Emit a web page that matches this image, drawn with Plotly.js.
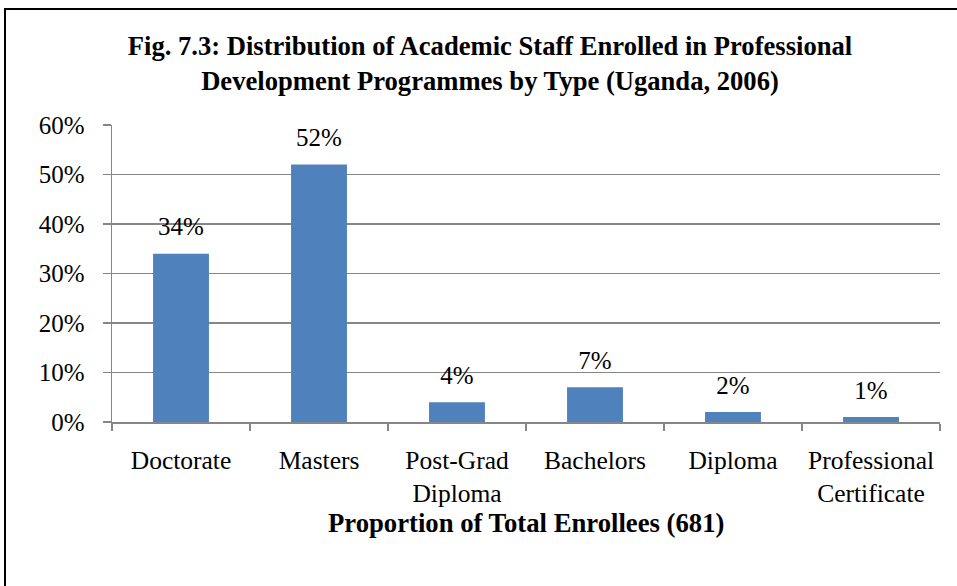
<!DOCTYPE html>
<html>
<head>
<meta charset="utf-8">
<script src="https://cdn.plot.ly/plotly-3.0.1.min.js"></script>
<style>
html,body{margin:0;padding:0;background:#fff;}
#wrap{position:relative;width:957px;height:586px;overflow:hidden;}
#chart{width:957px;height:586px;}
#frame{position:absolute;left:4px;top:8px;width:970px;height:600px;border:2px solid #000;pointer-events:none;}
</style>
</head>
<body>
<div id="wrap"><div id="chart"></div><div id="frame"></div></div>
<script>
const categories = ["Doctorate", "Masters", "Post-Grad<br>Diploma", "Bachelors", "Diploma", "Professional<br>Certificate"];
const values = [0.34, 0.52, 0.04, 0.07, 0.02, 0.01];
const valueLabels = ["34%", "52%", "4%", "7%", "2%", "1%"];
const yTickVals = [0, 0.1, 0.2, 0.3, 0.4, 0.5, 0.6];
const yTickText = ["0%", "10%", "20%", "30%", "40%", "50%", "60%"];
const xAxisTitle = "Proportion of Total Enrollees (681)";

const font = "Liberation Serif, Times New Roman, serif";

const bars = {
  type: "bar",
  x: categories,
  y: values,
  marker: {color: "#4F81BD"},
  hoverinfo: "skip"
};

const labels = {
  type: "scatter",
  mode: "markers+text",
  x: categories,
  y: values,
  text: valueLabels,
  textposition: "top center",
  textfont: {family: font, size: 25, color: "#000"},
  marker: {size: 18, opacity: 0},
  cliponaxis: false,
  hoverinfo: "skip"
};

const layout = {
  width: 957, height: 586,
  margin: {l: 112, r: 17, t: 125, b: 164},
  paper_bgcolor: "#fff",
  plot_bgcolor: "#fff",
  bargap: 0.595,
  showlegend: false,
  font: {family: font, size: 25, color: "#000"},
  title: {
    text: "<b>Fig. 7.3: Distribution of Academic Staff Enrolled in Professional<br>Development Programmes by Type (Uganda, 2006)</b>",
    font: {family: font, size: 26.6, color: "#000"},
    x: 0.512, xanchor: "center",
    y: 0.906, yanchor: "middle"
  },
  xaxis: {
    type: "category",
    showline: true, linecolor: "#868686", linewidth: 1.5,
    ticks: "outside", tickson: "boundaries", ticklen: 7, tickcolor: "#868686", tickwidth: 1.5,
    ticklabelstandoff: 15,
    tickangle: 0,
    tickfont: {family: font, size: 25.5, color: "#000"},
    showgrid: false
  },
  yaxis: {
    range: [0, 0.6],
    tickvals: yTickVals, ticktext: yTickText,
    showline: true, linecolor: "#868686", linewidth: 1.5,
    ticks: "outside", ticklen: 8, tickcolor: "#868686", tickwidth: 1.5,
    ticklabelstandoff: 13,
    showgrid: true, gridcolor: "#868686", gridwidth: 1.5,
    zeroline: false,
    tickfont: {family: font, size: 25, color: "#000"}
  },
  annotations: [{
    text: "<b>" + xAxisTitle + "</b>",
    xref: "paper", yref: "paper", x: 0.5, y: 0,
    xanchor: "center", yanchor: "middle", yshift: -101,
    showarrow: false,
    font: {family: font, size: 26.7, color: "#000"}
  }]
};

Plotly.newPlot("chart", [bars, labels], layout, {displayModeBar: false, staticPlot: true});
</script>
</body>
</html>
